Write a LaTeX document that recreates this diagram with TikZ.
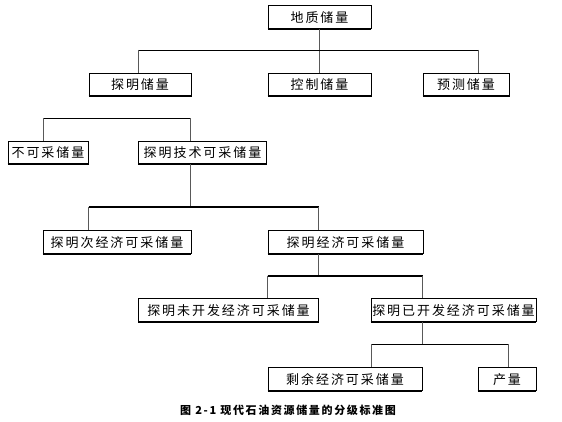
\documentclass[tikz,border=0pt]{standalone}
\usepackage{fontspec}
\newfontfamily\cjk[LetterSpace=15]{Noto Sans CJK SC}
\usetikzlibrary{positioning}

\begin{document}
\begin{tikzpicture}[x=1pt,y=-1pt,
  box/.style={draw=black, line width=0.7pt, inner sep=0pt, minimum height=23pt,
    font=\cjk\fontsize{13}{15}\selectfont},
  link/.style={draw=gray!70!black, line width=0.8pt},
  rule/.style={draw=black, line width=0.8pt},
  bar/.style={draw=black, line width=2pt}]
  \useasboundingbox (0,0) rectangle (562,422);

  % reserve classes
  \node[box, minimum width=103pt] (geo)     at (319.5,17.2)  {地质储量};
  \node[box, minimum width=102pt] (proven)  at (140,84.5)    {探明储量};
  \node[box, minimum width=103pt] (control) at (319.5,84.5)  {控制储量};
  \node[box, minimum width=86pt]  (predict) at (466,84.5)    {预测储量};
  \node[box, minimum width=80pt]  (nonrec)  at (48,152.5)    {不可采储量};
  \node[box, minimum width=128pt] (techrec) at (202.5,152.5) {探明技术可采储量};
  \node[box, minimum width=148pt] (subeco)  at (117,242.3)   {探明次经济可采储量};
  \node[box, minimum width=155pt] (eco)     at (345.5,242.3) {探明经济可采储量};
  \node[box, minimum width=180pt] (undev)   at (228.5,310.2) {探明未开发经济可采储量};
  \node[box, minimum width=165pt] (dev)     at (453.5,310.2) {探明已开发经济可采储量};
  \node[box, minimum width=154pt] (remain)  at (345,379.2)   {剩余经济可采储量};
  \node[box, minimum width=58pt]  (output)  at (507,379.2)   {产量};

  \foreach \n in {geo,proven,control,predict,nonrec,techrec,subeco,eco,undev,dev,remain,output}
    \draw[bar] (\n.south west) -- (\n.south east);

  % forks
  \coordinate (b1l) at (138,50);     \coordinate (b1r) at (478,50);
  \coordinate (b2l) at (43,118.3);   \coordinate (b2r) at (190.5,118.3);
  \coordinate (b3l) at (88.7,207.3); \coordinate (b3r) at (318.7,207.3);
  \coordinate (b4l) at (267.7,275.7);\coordinate (b4r) at (422.7,275.7);
  \coordinate (b5l) at (371.3,344);  \coordinate (b5r) at (508.3,344);

  \draw[link] (geo) -- (control);
  \draw[rule] (b1l) -- (b1r);
  \draw[link] (b1l) -- (b1l |- proven.north);
  \draw[link] (b1r) -- (b1r |- predict.north);

  \draw[rule] (b2l) -- (b2r);
  \draw[link] (b2l) -- (b2l |- nonrec.north);
  \draw[link] (b2r) -- (b2r |- techrec.north);

  \draw[link] (b2r |- techrec.south) -- (b2r |- b3l);
  \draw[bar] (b3l) -- (b3r);
  \draw[link] (b3l) -- (b3l |- subeco.north);
  \draw[link] (b3r) -- (b3r |- eco.north);

  \draw[link] (b3r |- eco.south) -- (b3r |- b4l);
  \draw[bar] (b4l) -- (b4r);
  \draw[link] (b4l) -- (b4l |- undev.north);
  \draw[link] (b4r) -- (b4r |- dev.north);

  \draw[link] (b4r |- dev.south) -- (b4r |- b5l);
  \draw[rule] (b5l) -- (b5r);
  \draw[link] (b5l) -- (b5l |- remain.north);
  \draw[link] (b5r) -- (b5r |- output.north);

  \node[font=\cjk\bfseries\fontsize{11}{13}\selectfont] (title) at (288,410)
    {图 2-1 现代石油资源储量的分级标准图};
\end{tikzpicture}
\end{document}
